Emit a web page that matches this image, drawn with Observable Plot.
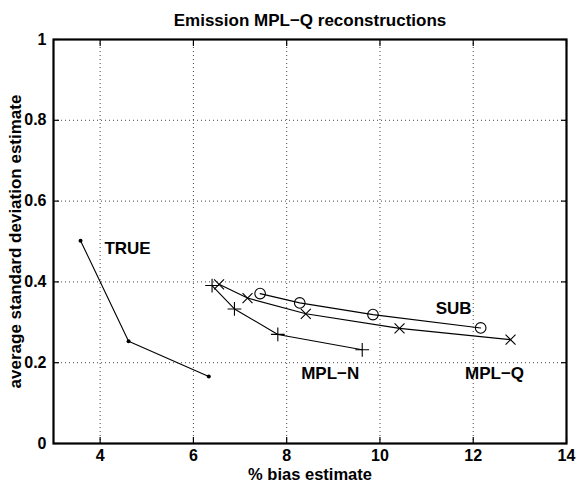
<!DOCTYPE html>
<html>
<head>
<meta charset="utf-8">
<script src="https://cdn.jsdelivr.net/npm/d3@7"></script>
<script src="https://cdn.jsdelivr.net/npm/@observablehq/plot@0.6"></script>
<style>
  html, body { margin: 0; padding: 0; background: #fff; }
</style>
</head>
<body>
<div id="chart"></div>
<script>
const titleText = "Emission MPL\u2212Q reconstructions";
const xLabel = "% bias estimate";
const yLabel = "average standard deviation estimate";
const xTicks = [4, 6, 8, 10, 12, 14];
const yTicks = [0, 0.2, 0.4, 0.6, 0.8, 1];
const yTickLabels = ["0", "0.2", "0.4", "0.6", "0.8", "1"];
const xGrid = [4, 6, 8, 10, 12];
const yGrid = [0.2, 0.4, 0.6, 0.8];

const trueX = [3.58, 4.61, 6.33];
const trueY = [0.502, 0.253, 0.166];
const mplnX = [6.40, 6.88, 7.81, 9.62];
const mplnY = [0.391, 0.333, 0.270, 0.232];
const mplqX = [6.55, 7.16, 8.41, 10.42, 12.80];
const mplqY = [0.394, 0.360, 0.321, 0.285, 0.257];
const subX = [7.43, 8.28, 9.85, 12.16];
const subY = [0.371, 0.348, 0.319, 0.286];

const seriesNames = ["TRUE", "MPL\u2212N", "MPL\u2212Q", "SUB"];

const toRows = (xs, ys) => xs.map((x, i) => ({x, y: ys[i]}));
const trueRows = toRows(trueX, trueY);
const mplnRows = toRows(mplnX, mplnY);
const mplqRows = toRows(mplqX, mplqY);
const subRows = toRows(subX, subY);

const gridStyle = {stroke: "#333", strokeOpacity: 0.9, strokeDasharray: "1,3", strokeWidth: 1};
const lineStyle = {x: "x", y: "y", stroke: "#000", strokeWidth: 1.1};
const markStyle = {x: "x", y: "y", stroke: "#000", fill: "none", strokeWidth: 1.1};
const labelStyle = {fontSize: 17, fontWeight: "bold", fill: "#000"};

const chart = Plot.plot({
  width: 577,
  height: 482,
  marginTop: 39,
  marginRight: 11,
  marginBottom: 39,
  marginLeft: 53,
  style: {fontFamily: "'Liberation Sans', Arial, Helvetica, sans-serif", fontSize: "16px", fontWeight: "bold", color: "#000", background: "#fff"},
  x: {domain: [3, 14]},
  y: {domain: [0, 1]},
  marks: [
    Plot.gridX(xGrid, gridStyle),
    Plot.gridY(yGrid, gridStyle),
    Plot.axisX({anchor: "bottom", ticks: xTicks, tickSize: 0, tickPadding: 6, label: null}),
    Plot.axisX({anchor: "bottom", ticks: xTicks, tickSize: -6, tickFormat: () => "", label: null, strokeWidth: 1.2}),
    Plot.axisX({anchor: "top", ticks: xTicks, tickSize: -6, tickFormat: () => "", label: null, strokeWidth: 1.2}),
    Plot.axisY({anchor: "left", ticks: yTicks, tickSize: 0, tickPadding: 7, label: null, tickFormat: d => yTickLabels[yTicks.indexOf(d)]}),
    Plot.axisY({anchor: "left", ticks: yTicks, tickSize: -6, tickFormat: () => "", label: null, strokeWidth: 1.2}),
    Plot.axisY({anchor: "right", ticks: yTicks, tickSize: -6, tickFormat: () => "", label: null, strokeWidth: 1.2}),
    Plot.line(trueRows, lineStyle),
    Plot.line(mplnRows, lineStyle),
    Plot.line(mplqRows, lineStyle),
    Plot.line(subRows, lineStyle),
    Plot.dot(trueRows, {x: "x", y: "y", r: 2, fill: "#000", stroke: "none"}),
    Plot.dot(mplnRows, {...markStyle, symbol: "plus", r: 4.5}),
    Plot.dot(mplqRows, {...markStyle, symbol: "times", r: 4.6}),
    Plot.dot(subRows, {...markStyle, symbol: "circle", r: 5.3}),
    Plot.text([trueRows[0]], {x: "x", y: "y", text: () => seriesNames[0], dx: 47, dy: 8, ...labelStyle}),
    Plot.text([mplnRows[mplnRows.length - 1]], {x: "x", y: "y", text: () => seriesNames[1], dx: -32, dy: 24, ...labelStyle}),
    Plot.text([mplqRows[mplqRows.length - 1]], {x: "x", y: "y", text: () => seriesNames[2], dx: -16, dy: 34, ...labelStyle}),
    Plot.text([subRows[subRows.length - 1]], {x: "x", y: "y", text: () => seriesNames[3], dx: -27, dy: -19, ...labelStyle}),
    Plot.frame({stroke: "#000", strokeWidth: 2.2}),
    Plot.text([titleText], {frameAnchor: "top", dy: -19, text: d => d, fontSize: 17, fontWeight: "bold", textAnchor: "middle", lineAnchor: "middle"}),
    Plot.text([xLabel], {frameAnchor: "bottom", dy: 31, text: d => d, fontSize: 16.5, fontWeight: "bold", textAnchor: "middle", lineAnchor: "middle"}),
    Plot.text([yLabel], {frameAnchor: "left", dx: -38, rotate: -90, text: d => d, fontSize: 17, fontWeight: "bold", textAnchor: "middle", lineAnchor: "middle"})
  ]
});
document.getElementById("chart").appendChild(chart);
</script>
</body>
</html>
